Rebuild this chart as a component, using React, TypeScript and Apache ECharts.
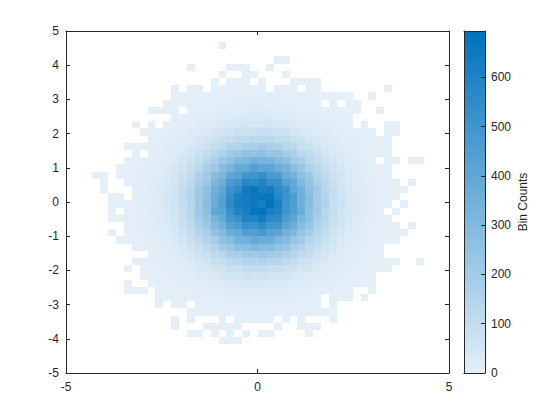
import React, { useEffect, useRef } from "react";
import * as echarts from "echarts";

// Each row: first number = index of first column, then estimated bin counts (top row first)
const row00 = [16, 2];
const row01 = [0];
const row02 = [23, 2, 2];
const row03 = [12, 1, 0, 0, 0, 0, 1, 2, 1, 0, 0, 2];
const row04 = [16, 1, 0, 0, 2, 2, 0, 0, 0, 1];
const row05 = [15, 1, 0, 2, 3, 2, 0, 3, 0, 0, 0, 2, 3, 2, 1];
const row06 = [10, 1, 0, 1, 2, 0, 2, 3, 4, 4, 5, 5, 4, 0, 4, 5, 3, 0, 2, 1, 0, 0, 0, 0, 0, 0, 0, 0, 1];
const row07 = [10, 1, 1, 1, 2, 2, 3, 4, 5, 6, 7, 8, 7, 8, 6, 5, 4, 3, 2, 2, 1, 1, 1, 1, 0, 0, 1];
const row08 = [9, 1, 1, 1, 2, 3, 4, 5, 6, 8, 9, 11, 12, 11, 10, 9, 8, 6, 5, 4, 3, 0, 2, 0, 1, 1];
const row09 = [7, 1, 1, 1, 1, 0, 4, 6, 8, 10, 13, 15, 18, 19, 21, 20, 18, 17, 15, 13, 10, 8, 6, 4, 3, 2, 1, 1, 0, 0, 1];
const row10 = [10, 3, 5, 7, 11, 12, 18, 23, 26, 30, 30, 35, 32, 32, 28, 25, 22, 17, 13, 10, 7, 5, 3, 2];
const row11 = [5, 1, 0, 1, 0, 3, 5, 9, 12, 17, 23, 30, 35, 43, 47, 55, 54, 54, 48, 45, 40, 36, 28, 23, 16, 12, 8, 5, 3, 0, 1, 0, 0, 1, 1];
const row12 = [6, 1, 2, 3, 5, 8, 13, 20, 25, 37, 44, 58, 64, 78, 80, 88, 86, 86, 72, 70, 52, 46, 34, 27, 17, 12, 8, 5, 3, 2, 1, 0, 1, 1];
const row13 = [7, 2, 5, 8, 12, 19, 29, 39, 55, 66, 88, 97, 115, 119, 132, 123, 128, 107, 103, 81, 68, 48, 41, 26, 19, 12, 8, 5, 3, 2, 1, 1];
const row14 = [4, 1, 1, 2, 4, 7, 11, 18, 28, 39, 59, 74, 101, 117, 148, 159, 181, 180, 195, 172, 164, 136, 126, 93, 78, 54, 41, 26, 18, 11, 7, 4, 2, 1, 1];
const row15 = [5, 1, 0, 5, 9, 15, 25, 38, 54, 81, 101, 140, 160, 203, 218, 250, 247, 257, 234, 232, 190, 170, 130, 108, 75, 55, 36, 25, 15, 9, 5, 3, 2, 1];
const row16 = [4, 1, 2, 4, 7, 12, 20, 33, 48, 75, 99, 141, 172, 224, 250, 302, 311, 343, 331, 325, 286, 262, 208, 184, 131, 103, 70, 49, 31, 20, 12, 7, 4, 0, 1, 1, 0, 1, 1];
const row17 = [3, 1, 1, 3, 5, 9, 16, 25, 42, 60, 94, 125, 178, 215, 284, 316, 381, 392, 432, 412, 412, 361, 335, 266, 229, 166, 134, 87, 64, 40, 25, 16, 9, 5, 3, 1];
const row18 = [0, 1, 1, 0, 1, 2, 3, 6, 11, 19, 31, 48, 76, 106, 160, 199, 277, 318, 403, 429, 497, 489, 525, 465, 458, 378, 340, 259, 213, 150, 114, 72, 50, 29, 19, 11, 6, 3, 2];
const row19 = [1, 1, 0, 0, 2, 3, 7, 12, 22, 36, 55, 87, 122, 184, 230, 317, 366, 465, 495, 573, 562, 602, 538, 525, 436, 390, 298, 244, 172, 130, 83, 58, 34, 22, 12, 7, 3, 2, 1, 0, 1];
const row20 = [1, 1, 0, 0, 0, 4, 7, 14, 24, 40, 62, 97, 136, 203, 255, 352, 408, 515, 551, 640, 672, 620, 633, 548, 515, 408, 352, 255, 203, 136, 97, 62, 40, 24, 14, 7, 4, 2, 1, 1];
const row21 = [2, 1, 1, 0, 4, 8, 14, 25, 42, 64, 103, 142, 215, 270, 371, 430, 543, 611, 630, 659, 672, 672, 578, 513, 456, 350, 287, 202, 152, 97, 68, 40, 25, 14, 8, 4, 2, 1];
const row22 = [2, 1, 1, 2, 4, 8, 14, 25, 42, 65, 104, 145, 219, 277, 372, 436, 548, 620, 630, 655, 625, 685, 615, 505, 454, 355, 284, 208, 153, 95, 70, 39, 26, 14, 8, 4, 3, 0, 1];
const row23 = [2, 1, 0, 2, 4, 8, 14, 25, 41, 62, 100, 140, 210, 262, 395, 418, 529, 592, 617, 671, 681, 620, 593, 497, 446, 373, 262, 210, 140, 100, 62, 41, 25, 14, 8, 4, 0, 1];
const row24 = [2, 1, 1, 2, 4, 7, 13, 23, 38, 57, 93, 128, 193, 243, 335, 387, 489, 521, 602, 593, 638, 567, 554, 459, 411, 315, 258, 182, 137, 87, 61, 36, 23, 13, 7, 4, 2];
const row25 = [4, 2, 3, 6, 11, 20, 34, 52, 82, 113, 172, 214, 297, 341, 433, 462, 534, 524, 563, 502, 492, 407, 364, 279, 228, 161, 121, 77, 55, 32, 20, 11, 6, 3, 2, 1, 0, 1];
const row26 = [2, 1, 0, 1, 3, 5, 10, 17, 29, 43, 69, 96, 145, 182, 251, 289, 367, 391, 452, 444, 476, 425, 417, 344, 308, 236, 193, 136, 103, 65, 46, 27, 17, 10, 5, 3, 1, 1, 1];
const row27 = [3, 1, 1, 2, 4, 8, 14, 22, 37, 53, 84, 110, 157, 191, 250, 279, 338, 345, 383, 364, 367, 317, 298, 235, 204, 147, 118, 79, 56, 35, 22, 14, 8, 4, 2, 1, 1];
const row28 = [5, 2, 3, 6, 11, 17, 29, 41, 64, 85, 122, 148, 194, 216, 262, 267, 297, 281, 284, 245, 231, 182, 158, 114, 91, 60, 44, 27, 17, 11, 6, 3, 2];
const row29 = [7, 4, 8, 13, 21, 32, 45, 67, 84, 117, 135, 171, 181, 211, 207, 222, 198, 193, 160, 144, 110, 90, 63, 48, 30, 21, 13, 8, 4, 2, 1];
const row30 = [5, 1, 2, 3, 6, 9, 15, 22, 32, 48, 60, 83, 96, 121, 129, 150, 147, 158, 141, 137, 114, 102, 78, 64, 45, 34, 22, 15, 9, 6, 3, 2, 1, 1, 1, 0, 0, 1];
const row31 = [4, 1, 0, 1, 2, 4, 6, 10, 15, 22, 32, 41, 56, 65, 83, 88, 101, 99, 107, 95, 93, 78, 69, 52, 44, 30, 22, 15, 10, 6, 4, 2, 1, 1, 1];
const row32 = [6, 1, 1, 2, 4, 7, 10, 14, 20, 26, 36, 42, 54, 57, 66, 65, 70, 62, 61, 51, 45, 34, 28, 20, 14, 10, 7, 4, 2, 1, 1];
const row33 = [4, 1, 0, 0, 1, 2, 3, 4, 6, 9, 13, 17, 22, 28, 31, 38, 39, 44, 40, 41, 36, 33, 26, 22, 17, 13, 9, 6, 4, 3, 2, 1, 1];
const row34 = [4, 1, 1, 1, 0, 1, 2, 2, 4, 5, 8, 10, 13, 16, 19, 22, 24, 25, 24, 24, 22, 19, 16, 13, 10, 8, 5, 4, 2, 2, 0, 0, 1];
const row35 = [8, 1, 1, 1, 2, 3, 4, 6, 7, 9, 11, 12, 13, 14, 13, 13, 12, 11, 9, 7, 6, 4, 0, 2, 1, 1, 0, 1];
const row36 = [8, 1, 0, 1, 1, 0, 2, 3, 4, 5, 6, 7, 8, 8, 8, 7, 7, 6, 5, 4, 3, 2, 0, 1];
const row37 = [12, 1, 1, 1, 2, 3, 3, 4, 5, 5, 5, 4, 4, 3, 3, 2, 2, 1, 1, 1];
const row38 = [10, 1, 0, 1, 0, 0, 0, 1, 0, 2, 2, 3, 2, 2, 0, 1, 0, 1, 0, 0, 0, 1];
const row39 = [10, 1, 0, 0, 0, 1, 1, 2, 1, 1, 0, 0, 0, 0, 1, 0, 0, 1, 1, 1];
const row40 = [12, 1, 1, 0, 1, 0, 1, 0, 1, 0, 1, 1, 0, 0, 0, 0, 1];
const row41 = [16, 1, 1, 1];

const rows = [
  row00, row01, row02, row03, row04, row05, row06, row07, row08, row09,
  row10, row11, row12, row13, row14, row15, row16, row17, row18, row19,
  row20, row21, row22, row23, row24, row25, row26, row27, row28, row29,
  row30, row31, row32, row33, row34, row35, row36, row37, row38, row39,
  row40, row41,
];

const xEdgeFirst = -4.314;
const xBinWidth = 0.206;
const yEdgeFirst = 4.678;
const yBinHeight = 0.2105;
const countMax = 694;
const colourLow = [228, 239, 248];
const colourHigh = [0, 114, 189];
const ink = "#262626";
const fontFamily = "Liberation Sans, Arial, sans-serif";

const binColour = (v: number) => {
  const t = Math.min(1, v / countMax);
  const c = colourLow.map((a, i) => Math.round(a + (colourHigh[i] - a) * t));
  return `rgb(${c[0]},${c[1]},${c[2]})`;
};

const cells: number[][] = [];
rows.forEach((row, j) => {
  row.slice(1).forEach((v, i) => {
    if (v > 0) {
      const x0 = xEdgeFirst + (row[0] + i) * xBinWidth;
      const y0 = yEdgeFirst - j * yBinHeight;
      cells.push([x0, y0, x0 + xBinWidth, y0 - yBinHeight, v]);
    }
  });
});

const tickStyle = { show: true, inside: true, length: 4, lineStyle: { color: ink, width: 1 } };
const lineStyle = { show: true, onZero: false, lineStyle: { color: ink, width: 1 } };
const labelStyle = { color: ink, fontSize: 12, fontFamily };

export default function App() {
  const ref = useRef<HTMLDivElement>(null);
  useEffect(() => {
    const chart = echarts.init(ref.current!, undefined, { renderer: "svg" });
    chart.setOption({
      animation: false,
      backgroundColor: "#ffffff",
      grid: [
        { left: 66, top: 31, width: 383, height: 342 },
        { left: 464, top: 31, width: 21, height: 342 },
      ],
      xAxis: [
        { type: "value", z: 10, gridIndex: 0, min: -5, max: 5, interval: 5, position: "bottom", axisLine: lineStyle, axisTick: tickStyle, axisLabel: { ...labelStyle, margin: 8 }, splitLine: { show: false } },
        { type: "value", z: 10, gridIndex: 0, min: -5, max: 5, interval: 5, position: "top", axisLine: lineStyle, axisTick: tickStyle, axisLabel: { show: false }, splitLine: { show: false } },
        { type: "category", z: 10, gridIndex: 1, data: ["counts"], position: "bottom", axisLine: lineStyle, axisTick: { show: false }, axisLabel: { show: false } },
        { type: "category", z: 10, gridIndex: 1, data: ["counts"], position: "top", axisLine: lineStyle, axisTick: { show: false }, axisLabel: { show: false } },
      ],
      yAxis: [
        { type: "value", z: 10, gridIndex: 0, min: -5, max: 5, interval: 1, position: "left", axisLine: lineStyle, axisTick: tickStyle, axisLabel: { ...labelStyle, margin: 7 }, splitLine: { show: false } },
        { type: "value", z: 10, gridIndex: 0, min: -5, max: 5, interval: 1, position: "right", axisLine: lineStyle, axisTick: tickStyle, axisLabel: { show: false }, splitLine: { show: false } },
        { type: "value", z: 10, gridIndex: 1, min: 0, max: countMax, interval: 100, position: "left", axisLine: lineStyle, axisTick: { show: false }, axisLabel: { show: false }, splitLine: { show: false } },
        {
          type: "value", z: 10, gridIndex: 1, min: 0, max: countMax, interval: 100, position: "right",
          axisLine: lineStyle, axisTick: tickStyle, axisLabel: { ...labelStyle, margin: 6, showMaxLabel: false }, splitLine: { show: false },
          name: "Bin Counts", nameLocation: "middle", nameGap: 32, nameRotate: 90,
          nameTextStyle: { color: ink, fontSize: 12, fontFamily },
        },
      ],
      series: [
        {
          type: "custom",
          xAxisIndex: 0,
          yAxisIndex: 0,
          data: cells,
          encode: { x: [0, 2], y: [1, 3] },
          clip: true,
          z: 1,
          renderItem: (_p: any, api: any) => {
            const a = api.coord([api.value(0), api.value(1)]);
            const b = api.coord([api.value(2), api.value(3)]);
            const x = Math.round(a[0]);
            const y = Math.round(a[1]);
            return {
              type: "rect",
              shape: { x, y, width: Math.round(b[0]) - x, height: Math.round(b[1]) - y },
              style: { fill: binColour(api.value(4)) },
            };
          },
        },
        {
          type: "bar",
          xAxisIndex: 2,
          yAxisIndex: 3,
          data: [countMax],
          barWidth: "100%",
          z: 1,
          itemStyle: {
            color: new echarts.graphic.LinearGradient(0, 1, 0, 0, [
              { offset: 0, color: binColour(0) },
              { offset: 1, color: binColour(countMax) },
            ]),
          },
        },
      ],
    });
    return () => chart.dispose();
  }, []);
  return <div ref={ref} style={{ position: "absolute", left: 0, top: 0, width: 560, height: 420 }} />;
}
